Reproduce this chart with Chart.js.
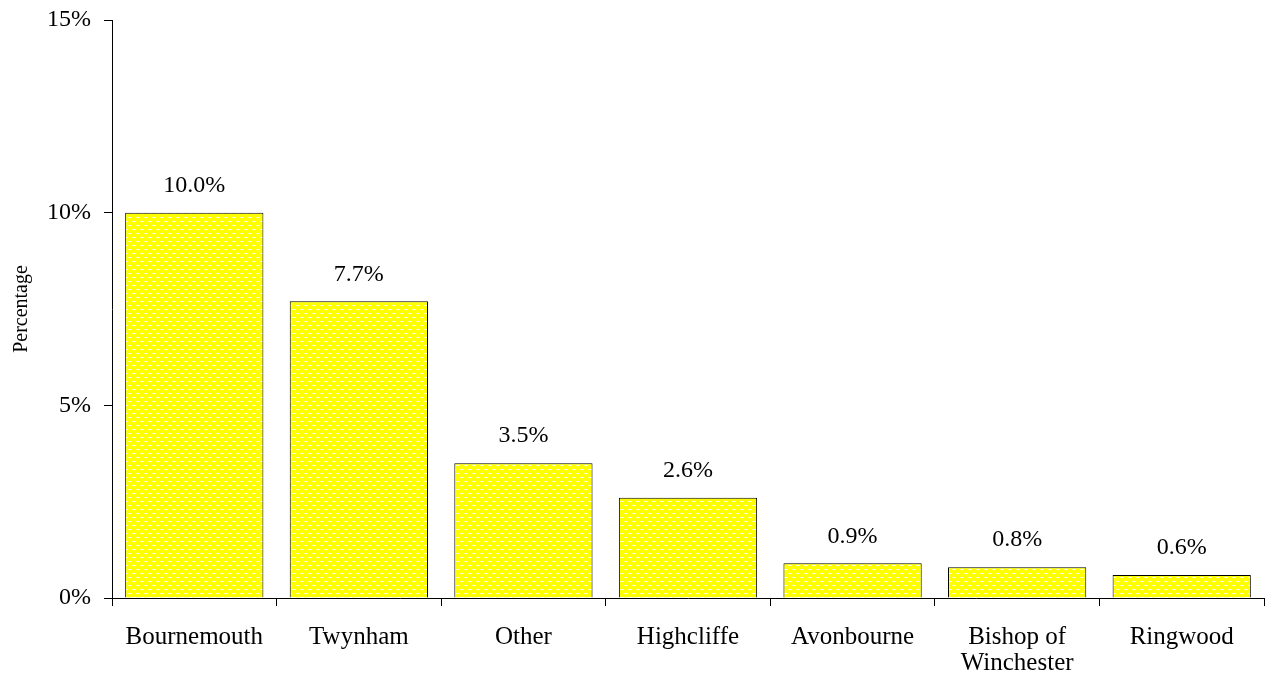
<!DOCTYPE html>
<html>
<head>
<meta charset="utf-8">
<script src="https://cdn.jsdelivr.net/npm/chart.js@4/dist/chart.umd.min.js"></script>
<style>
  body { margin: 0; background: #fff; }
  #wrap { width: 1272px; height: 679px; }
</style>
</head>
<body>
<div id="wrap"><canvas id="chart"></canvas></div>
<script>
// datos del grafico
const categorias = ['Bournemouth', 'Twynham', 'Other', 'Highcliffe', 'Avonbourne', ['Bishop of', 'Winchester'], 'Ringwood'];
const porcentajes = [10.0, 7.7, 3.5, 2.6, 0.9, 0.8, 0.6];
const ticksY = [0, 5, 10, 15];

const fuente = '"Liberation Serif", "Times New Roman", serif';

// patron amarillo con guiones blancos
function crearPatron() {
  const c = document.createElement('canvas');
  c.width = 8; c.height = 8;
  const g = c.getContext('2d');
  g.fillStyle = '#ffff00';
  g.fillRect(0, 0, 8, 8);
  g.fillStyle = '#ffffa0';
  g.fillRect(0, 1, 4, 1);
  g.fillRect(4, 5, 4, 1);
  g.fillStyle = '#ffffff';
  g.fillRect(1, 1, 2, 1);
  g.fillRect(5, 5, 2, 1);
  return g.createPattern(c, 'repeat');
}
const patron = crearPatron();

// etiquetas encima de las barras
const etiquetas = {
  id: 'etiquetas',
  afterDatasetsDraw(chart) {
    const ctx = chart.ctx;
    const meta = chart.getDatasetMeta(0);
    ctx.save();
    ctx.font = '24px ' + fuente;
    ctx.fillStyle = '#000';
    ctx.textAlign = 'center';
    ctx.textBaseline = 'middle';
    meta.data.forEach((bar, i) => {
      ctx.fillText(porcentajes[i].toFixed(1) + '%', bar.x, bar.y - 27);
    });
    ctx.restore();
  }
};

new Chart(document.getElementById('chart'), {
  type: 'bar',
  data: {
    labels: categorias,
    datasets: [{
      data: porcentajes,
      backgroundColor: patron,
      borderColor: '#000',
      borderWidth: 1,
      barPercentage: 0.84,
      categoryPercentage: 1
    }]
  },
  options: {
    responsive: true,
    maintainAspectRatio: false,
    animation: false,
    layout: { padding: { top: 20, right: 8, left: 0, bottom: 0 } },
    plugins: { legend: { display: false }, tooltip: { enabled: false } },
    scales: {
      x: {
        grid: { offset: true, drawOnChartArea: false, tickLength: 8, color: '#000', tickColor: '#000' },
        border: { color: '#000', width: 1 },
        ticks: { color: '#000', font: { family: fuente, size: 25, lineHeight: 1.05 }, padding: 18, maxRotation: 0, autoSkip: false },
        afterFit(scale) { scale.height = 81; }
      },
      y: {
        min: 0,
        max: 15,
        afterBuildTicks(scale) { scale.ticks = ticksY.map(v => ({ value: v })); },
        grid: { drawOnChartArea: false, tickLength: 8, color: '#000', tickColor: '#000' },
        border: { color: '#000', width: 1 },
        ticks: { color: '#000', font: { family: fuente, size: 24, lineHeight: 0.5 }, padding: 13, callback: v => v + '%' },
        title: { display: true, text: 'Percentage', color: '#000', font: { family: fuente, size: 20 }, padding: { top: 10, bottom: 0 } },
        afterFit(scale) { scale.width = 112; }
      }
    }
  },
  plugins: [etiquetas]
});
</script>
</body>
</html>
